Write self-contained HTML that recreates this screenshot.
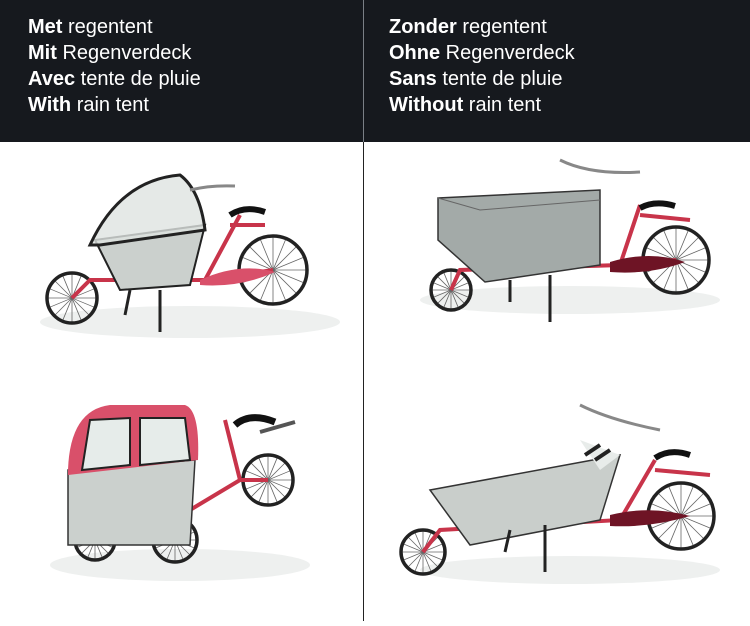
<!DOCTYPE html>
<html><head><style>
body{margin:0;width:750px;height:621px;background:#fff;overflow:hidden;font-family:"Liberation Sans",sans-serif}
</style></head><body>
<svg width="750" height="621" xmlns="http://www.w3.org/2000/svg">
<defs>
<g id="sp"><g stroke="#666" stroke-width="0.8" vector-effect="non-scaling-stroke">
<line x1="-1" y1="0" x2="1" y2="0" vector-effect="non-scaling-stroke"/>
<line x1="-1" y1="0" x2="1" y2="0" transform="rotate(22.5)" vector-effect="non-scaling-stroke"/>
<line x1="-1" y1="0" x2="1" y2="0" transform="rotate(45)" vector-effect="non-scaling-stroke"/>
<line x1="-1" y1="0" x2="1" y2="0" transform="rotate(67.5)" vector-effect="non-scaling-stroke"/>
<line x1="-1" y1="0" x2="1" y2="0" transform="rotate(90)" vector-effect="non-scaling-stroke"/>
<line x1="-1" y1="0" x2="1" y2="0" transform="rotate(112.5)" vector-effect="non-scaling-stroke"/>
<line x1="-1" y1="0" x2="1" y2="0" transform="rotate(135)" vector-effect="non-scaling-stroke"/>
<line x1="-1" y1="0" x2="1" y2="0" transform="rotate(157.5)" vector-effect="non-scaling-stroke"/>
</g></g>
</defs>
<rect x="0" y="0" width="750" height="142" fill="#16191e"/>
<line x1="363.5" y1="0" x2="363.5" y2="142" stroke="#7a7f86" stroke-width="1"/>
<line x1="363.5" y1="142" x2="363.5" y2="621" stroke="#222" stroke-width="1"/>
<g fill="#fff" font-size="20" font-family="Liberation Sans, sans-serif">
<text x="28" y="33"><tspan font-weight="bold">Met</tspan> regentent</text>
<text x="28" y="59"><tspan font-weight="bold">Mit</tspan> Regenverdeck</text>
<text x="28" y="85"><tspan font-weight="bold">Avec</tspan> tente de pluie</text>
<text x="28" y="111"><tspan font-weight="bold">With</tspan> rain tent</text>
<text x="389" y="33"><tspan font-weight="bold">Zonder</tspan> regentent</text>
<text x="389" y="59"><tspan font-weight="bold">Ohne</tspan> Regenverdeck</text>
<text x="389" y="85"><tspan font-weight="bold">Sans</tspan> tente de pluie</text>
<text x="389" y="111"><tspan font-weight="bold">Without</tspan> rain tent</text>
</g>
<g fill="#eef0ef">
<ellipse cx="190" cy="322" rx="150" ry="16"/>
<ellipse cx="570" cy="300" rx="150" ry="14"/>
<ellipse cx="180" cy="565" rx="130" ry="16"/>
<ellipse cx="570" cy="570" rx="150" ry="14"/>
</g>
<use href="#sp" transform="translate(72,298) scale(24)"/>
<use href="#sp" transform="translate(273,270) scale(33)"/>
<use href="#sp" transform="translate(451,290) scale(19)"/>
<use href="#sp" transform="translate(676,260) scale(32)"/>
<use href="#sp" transform="translate(95,540) scale(19)"/>
<use href="#sp" transform="translate(175,540) scale(21)"/>
<use href="#sp" transform="translate(268,480) scale(24)"/>
<use href="#sp" transform="translate(423,552) scale(21)"/>
<use href="#sp" transform="translate(681,516) scale(32)"/>
<g fill="none" stroke="#222" stroke-width="3.5">
<circle cx="72" cy="298" r="25"/><circle cx="273" cy="270" r="34"/>
<circle cx="451" cy="290" r="20"/><circle cx="676" cy="260" r="33"/>
<circle cx="95" cy="540" r="20"/><circle cx="175" cy="540" r="22"/><circle cx="268" cy="480" r="25"/>
<circle cx="423" cy="552" r="22"/><circle cx="681" cy="516" r="33"/>
</g>
<g stroke="#c8344a" stroke-width="4" fill="none">
<path d="M72 298 L90 280 L205 280 L240 215 M205 280 L273 270 M230 225 L265 225"/>
<path d="M451 290 L460 270 L620 265 L640 205 M620 265 L676 260 M640 215 L690 220"/>
<path d="M190 510 L240 480 L268 480 M225 420 L240 480"/>
<path d="M423 552 L440 530 L620 520 L655 460 M620 520 L681 516 M655 470 L710 475"/>
</g>
<path d="M95 240 L205 225 L190 285 L120 290 Z" fill="#cbd0cd" stroke="#222" stroke-width="2"/>
<path d="M90 245 Q120 180 180 175 Q200 190 205 230 L100 245 Z" fill="#dfe3e1" fill-opacity="0.8" stroke="#222" stroke-width="3"/>
<path d="M200 280 Q240 262 275 272 Q240 288 200 285Z" fill="#d9506a"/>
<path d="M230 215 Q245 205 265 212" stroke="#111" stroke-width="6" fill="none"/>
<path d="M190 190 Q210 185 235 186" stroke="#888" stroke-width="3" fill="none"/>
<line x1="130" y1="290" x2="125" y2="315" stroke="#222" stroke-width="3"/>
<line x1="160" y1="290" x2="160" y2="332" stroke="#222" stroke-width="3"/>
<path d="M438 198 L600 190 L600 265 L485 282 L438 240 Z" fill="#a3aaa8" stroke="#333" stroke-width="1.5"/>
<path d="M438 198 L480 210 L600 200" stroke="#666" fill="none"/>
<path d="M610 262 Q650 250 685 262 Q650 275 610 272Z" fill="#6e1425"/>
<path d="M560 160 Q590 175 640 172" stroke="#888" stroke-width="3" fill="none"/>
<path d="M640 208 Q655 200 675 206" stroke="#111" stroke-width="6" fill="none"/>
<line x1="510" y1="280" x2="510" y2="302" stroke="#222" stroke-width="3"/>
<line x1="550" y1="275" x2="550" y2="322" stroke="#222" stroke-width="3"/>
<path d="M68 470 L195 460 L190 545 L68 545 Z" fill="#cbd0cd" stroke="#333" stroke-width="1.5"/>
<path d="M68 470 Q70 410 110 405 L185 405 Q200 410 198 460 L68 475 Z" fill="#d9506a"/>
<path d="M82 470 L90 420 L130 418 L130 465 Z M140 465 L140 418 L185 418 L190 460 Z" fill="#e6ecea" stroke="#222" stroke-width="2"/>
<path d="M235 425 Q250 412 275 422" stroke="#111" stroke-width="7" fill="none"/>
<path d="M260 432 L295 422" stroke="#555" stroke-width="4"/>
<path d="M430 490 L620 455 L600 520 L470 545 Z" fill="#c9cecb" stroke="#333" stroke-width="1.5"/>
<path d="M580 440 L620 455 L600 470 Z" fill="#e8ecea"/>
<path d="M585 455 L600 445 M595 460 L610 450" stroke="#222" stroke-width="4"/>
<path d="M610 515 Q650 505 690 516 Q650 528 610 526Z" fill="#6e1425"/>
<path d="M580 405 Q610 420 660 430" stroke="#888" stroke-width="3" fill="none"/>
<path d="M655 458 Q670 448 690 455" stroke="#111" stroke-width="6" fill="none"/>
<line x1="510" y1="530" x2="505" y2="552" stroke="#222" stroke-width="3"/>
<line x1="545" y1="525" x2="545" y2="572" stroke="#222" stroke-width="3"/>
</svg>
</body></html>
